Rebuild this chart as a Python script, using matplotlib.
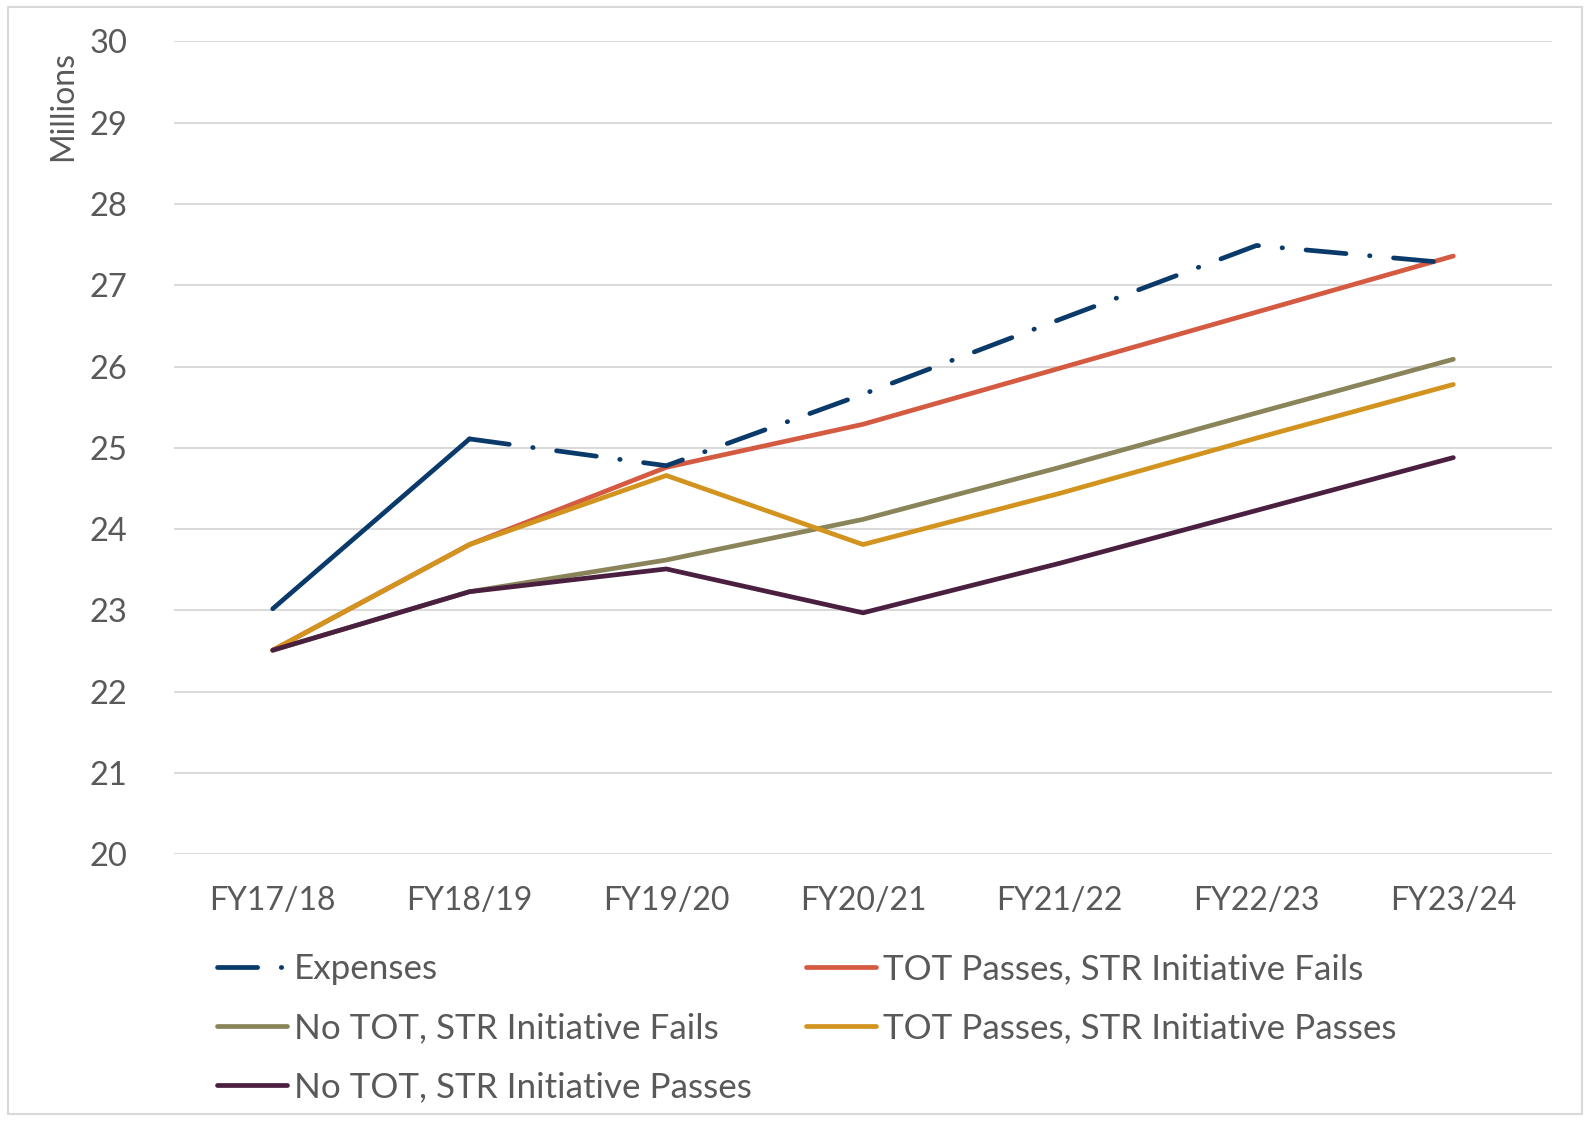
import matplotlib
matplotlib.use("Agg")
import matplotlib.pyplot as plt
from matplotlib.patches import Rectangle

years = ["FY17/18", "FY18/19", "FY19/20", "FY20/21", "FY21/22", "FY22/23", "FY23/24"]
expenses = [23.02, 25.11, 24.78, 25.66, 26.58, 27.49, 27.27]
tot_pass_str_fail = [22.51, 23.81, 24.76, 25.29, 25.98, 26.67, 27.36]
no_tot_str_fail = [22.51, 23.23, 23.62, 24.12, 24.76, 25.43, 26.09]
tot_pass_str_pass = [22.51, 23.81, 24.66, 23.81, 24.44, 25.12, 25.78]
no_tot_str_pass = [22.51, 23.23, 23.51, 22.97, 23.58, 24.23, 24.88]

TEXT = "#595959"
plt.rcParams["font.family"] = ["Lato", "DejaVu Sans"]

fig = plt.figure(figsize=(15.85, 11.21), dpi=100)
ax = fig.add_axes([0.110, 0.238, 0.869, 0.725])

x = list(range(len(years)))
lw = 3.4

# expenses: actual first year solid, projection dash-dot
ax.plot(x[:2], expenses[:2], color="#0A3A6A", lw=lw, solid_capstyle="round", zorder=3)
exp_line, = ax.plot(x[1:], expenses[1:], color="#0A3A6A", lw=lw, dashes=(8.5, 5.0, 0.1, 5.0),
                    dash_capstyle="round", zorder=3, label="Expenses")
red, = ax.plot(x, tot_pass_str_fail, color="#D45B42", lw=lw, solid_capstyle="round",
               label="TOT Passes, STR Initiative Fails")
olive, = ax.plot(x, no_tot_str_fail, color="#8A845A", lw=lw, solid_capstyle="round",
                 label="No TOT, STR Initiative Fails")
gold, = ax.plot(x, tot_pass_str_pass, color="#D2941F", lw=lw, solid_capstyle="round",
                label="TOT Passes, STR Initiative Passes")
purple, = ax.plot(x, no_tot_str_pass, color="#4A1F40", lw=lw, solid_capstyle="round",
                  label="No TOT, STR Initiative Passes")

ax.set_xlim(-0.5, 6.5)
ax.set_ylim(20, 30)
ax.set_yticks(range(20, 31))
ax.set_xticks(x)
ax.set_xticklabels(years)
ax.grid(axis="y", color="#D9D9D9", lw=1.4)
ax.set_axisbelow(True)
for s in ax.spines.values():
    s.set_visible(False)
ax.tick_params(axis="y", length=0, pad=34, labelsize=23.5, labelcolor=TEXT)
ax.tick_params(axis="x", length=0, pad=23, labelsize=23, labelcolor=TEXT)

fig.text(0.040, 1 - 106 / 1121, "Millions", rotation=90, ha="center", va="center",
         fontsize=23, color=TEXT)

handles = [exp_line, olive, purple, red, gold]
leg = fig.legend(handles=handles, labels=[h.get_label() for h in handles], ncol=2,
                 loc="upper left", bbox_to_anchor=(0.128, 0.162), frameon=False,
                 fontsize=25.2, handlelength=2.0, handletextpad=0.2,
                 labelspacing=0.77, columnspacing=1.55, borderaxespad=0)
for t in leg.get_texts():
    t.set_color(TEXT)

fig.patches.append(Rectangle((0.005, 0.006), 0.993, 0.988, transform=fig.transFigure,
                             fill=False, edgecolor="#D9D9D9", lw=1.5))

fig.savefig("out.png", dpi=100)
